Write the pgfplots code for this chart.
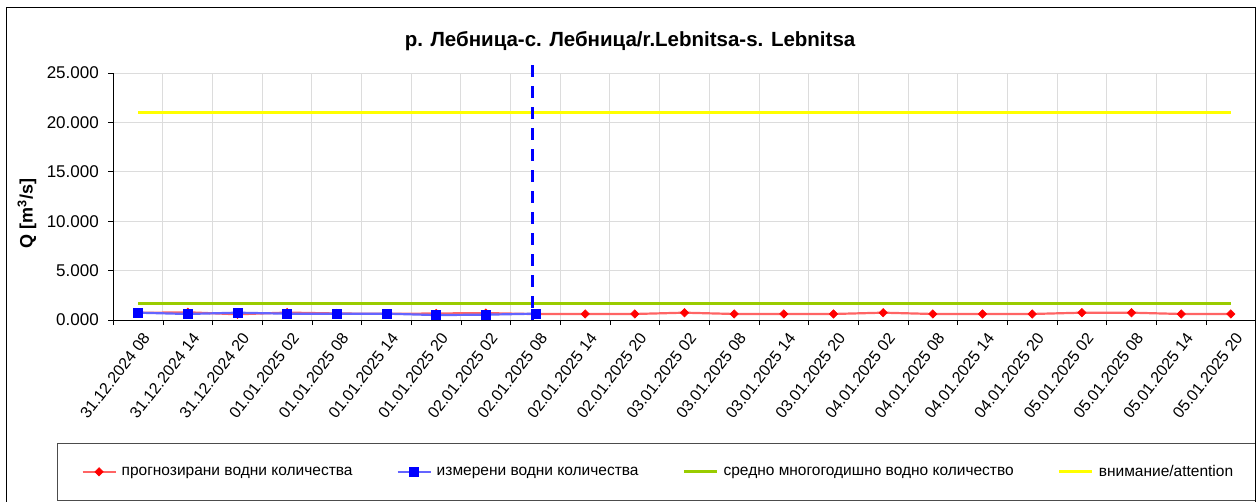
\documentclass[border=0pt]{standalone}
\usepackage{pgfplots}
\pgfplotsset{compat=1.18}
\usepackage{fontspec}
\setmainfont{Liberation Sans}
\definecolor{fcred}{RGB}{255,100,100}
\definecolor{msblue}{RGB}{100,100,255}
\definecolor{avggreen}{RGB}{153,204,0}
\definecolor{attyellow}{RGB}{255,255,0}
\definecolor{gridgray}{RGB}{220,220,220}
\begin{document}
\begin{tikzpicture}
\begin{axis}[
  scale only axis, width=1142.4pt, height=247pt,
  at={(0pt,0pt)}, anchor=south west,
  xmin=-0.5, xmax=22.5, ymin=0, ymax=25,
  clip=false,
  axis x line*=bottom, axis y line*=left,
  axis line style={-, black, line width=0.9pt},
  tick align=outside, major tick length=5pt, minor tick length=5pt,
  xtick={0,...,22},
  xticklabels={{31.12.2024 08},{31.12.2024 14},{31.12.2024 20},{01.01.2025 02},{01.01.2025 08},{01.01.2025 14},{01.01.2025 20},{02.01.2025 02},{02.01.2025 08},{02.01.2025 14},{02.01.2025 20},{03.01.2025 02},{03.01.2025 08},{03.01.2025 14},{03.01.2025 20},{04.01.2025 02},{04.01.2025 08},{04.01.2025 14},{04.01.2025 20},{05.01.2025 02},{05.01.2025 08},{05.01.2025 14},{05.01.2025 20}},
  major x tick style={draw=none},
  minor xtick={-0.5,0.5,...,22.5},
  minor x tick style={black, line width=0.9pt},
  xminorgrids, minor x grid style={gridgray, line width=1pt},
  ytick={0,5,...,25},
  ytick style={black, line width=0.9pt},
  ymajorgrids, major y grid style={gridgray, line width=1pt},
  /pgf/number format/assume math mode=true,
  /pgf/number format/fixed,
  /pgf/number format/fixed zerofill,
  /pgf/number format/precision=3,
  /pgf/number format/1000 sep={},
  /pgf/number format/use period,
  yticklabel style={font=\fontsize{17}{19}\selectfont, xshift=-6pt},
  xticklabel style={font=\fontsize{16}{18}\selectfont, rotate=52, anchor=east, yshift=-13pt, xshift=-2pt, inner sep=1pt},
  ylabel={Q [m\textsuperscript{3}/s]},
  ylabel style={font=\bfseries\fontsize{18}{20}\selectfont, at={(-0.0755,0.431)}, anchor=center},
  title={р. Лебница-с. Лебница/r.Lebnitsa-s. Lebnitsa},
  title style={font=\bfseries\fontsize{20.5}{22}\selectfont, at={(0.4523,1.0810)}, anchor=base},
  legend columns=4,
  legend cell align=left,
  legend image code/.code={\draw[mark repeat=2,mark phase=2,#1] plot coordinates {(0pt,0pt) (16.5pt,0pt) (33pt,0pt)};},
  legend style={at={(-0.04928,-0.49798)}, anchor=north west, draw=black!70, line width=0.9pt,
    font=\fontsize{15.5}{18}\selectfont, inner xsep=24pt, inner ysep=22pt,
    nodes={inner sep=0pt},
    /tikz/every odd column/.append style={column sep=5pt},
    /tikz/every even column/.append style={column sep=44pt}},
]
\addplot[fcred, line width=2.2pt, mark=square*, mark size=3pt, mark options={rotate=45, fill=red, draw=red, line width=0.5pt}]
  coordinates {(0,0.72) (1,0.78) (2,0.58) (3,0.75) (4,0.66) (5,0.62) (6,0.66) (7,0.70) (8,0.60)
  (9,0.61) (10,0.61) (11,0.74) (12,0.61) (13,0.61) (14,0.61) (15,0.74) (16,0.61) (17,0.61) (18,0.61) (19,0.74) (20,0.74) (21,0.61) (22,0.61)};
\addlegendentry{прогнозирани водни количества}
\addplot[msblue, line width=2.2pt, mark=square*, mark size=4.5pt, mark options={fill=blue, draw=blue, line width=0.5pt}]
  coordinates {(0,0.74) (1,0.61) (2,0.74) (3,0.64) (4,0.64) (5,0.64) (6,0.50) (7,0.54) (8,0.64)};
\addlegendentry{измерени водни количества}
\addplot[avggreen, line width=3pt, no marks]
  coordinates {(0,1.65) (22,1.65)};
\addlegendentry{средно многогодишно водно количество}
\addplot[attyellow, line width=3pt, no marks]
  coordinates {(0,21) (22,21)};
\addlegendentry{внимание/attention}
\addplot[blue, line width=3pt, dash pattern=on 12pt off 9pt, no marks, forget plot]
  coordinates {(7.93,25.8) (7.93,0)};
\end{axis}
\draw[black, line width=1pt] (-106.3pt,-200pt) rectangle (1141.7pt,312pt);
\pgfresetboundingbox
\useasboundingbox (-113.3pt,-181pt) rectangle (1142.7pt,320pt);
\end{tikzpicture}
\end{document}
